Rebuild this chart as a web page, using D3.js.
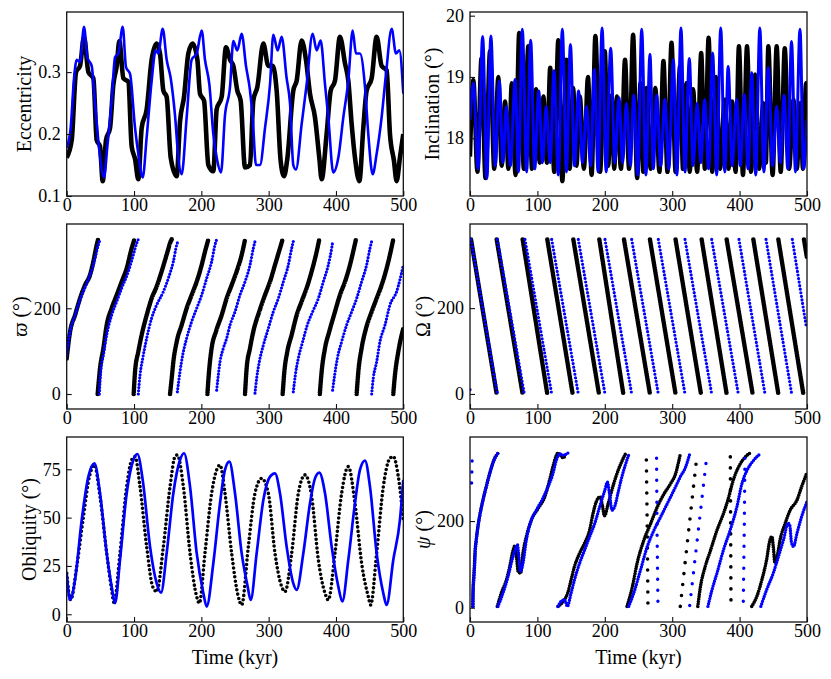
<!DOCTYPE html>
<html>
<head>
<meta charset="utf-8">
<script src="https://cdn.jsdelivr.net/npm/d3@7"></script>
<style>
body { margin:0; background:#fff; }
</style>
</head>
<body>
<div id="figure"></div>
<script>

// ---- data: [time (kyr), value] ----
var timeTicks = [0,100,200,300,400,500];
var eccTicks = [0.1,0.2,0.3];
var incTicks = [18,19,20];
var angleTicks = [0,200];
var oblTicks = [0,25,50,75];

var eccBlack = [[0,.162],[7.4,.19],[13.9,.30],[19.8,.31],[25.7,.357],[32.2,.30],[39.6,.29],[44.6,.19],[49.5,.18],[53.5,.124],
 [58.4,.19],[64.4,.21],[69.3,.28],[74.3,.31],[78.2,.35],[84.2,.29],[91.6,.284],[96.5,.18],[101.5,.16],[106.4,.127],
 [111.4,.21],[118.8,.24],[126.2,.32],[133.7,.346],[138.6,.33],[143.6,.27],[148.5,.26],[154.5,.162],[163.4,.132],
 [168.3,.22],[174.3,.26],[180.7,.33],[187.1,.346],[194.1,.32],[198,.265],[204,.254],[210.4,.15],[217.8,.14],
 [222.8,.24],[230.2,.26],[236.6,.34],[242.6,.32],[247.5,.31],[253.5,.27],[258.4,.254],[264.9,.146],[272.3,.15],
 [277.2,.254],[283.2,.276],[292.1,.346],[299.5,.31],[305.9,.31],[311.9,.27],[317.8,.157],[322.8,.132],[327.7,.16],
 [336.6,.27],[341.6,.286],[349,.351],[355.4,.32],[361.4,.265],[368.8,.227],[375.2,.162],[378.7,.127],[386.1,.2],
 [392.1,.27],[398.5,.286],[405.9,.357],[413.4,.314],[418.3,.286],[423.3,.216],[428.2,.162],[434.7,.124],[440.6,.21],
 [445.5,.27],[453,.29],[460.4,.357],[467.8,.31],[475.2,.303],[480.2,.2],[486.1,.157],[490.1,.124],[495,.162],[500,.2]];

var eccBlue = [[0,.178],[5.9,.21],[10.9,.29],[14.9,.32],[19.8,.316],[25.7,.373],[30.7,.324],[37.1,.31],[42.1,.25],[48.5,.173],
 [55.4,.13],[60.4,.18],[66.8,.254],[71.8,.324],[76.7,.33],[83.2,.373],[88.1,.308],[94.1,.297],[101.5,.21],[106.4,.168],
 [112.9,.13],[118.8,.195],[126.2,.286],[132.2,.335],[136.1,.33],[142.6,.37],[148.5,.32],[154.5,.29],[160.9,.23],
 [165.8,.162],[170.8,.135],[178.2,.227],[185.6,.32],[193.1,.33],[200.5,.367],[205.4,.32],[211.9,.28],[217.8,.2],
 [222.8,.162],[229.2,.138],[235.1,.23],[242.6,.276],[247.5,.35],[253.5,.335],[259.9,.362],[266.3,.31],[272.3,.27],
 [276.2,.227],[281.2,.15],[287.1,.15],[294.6,.21],[302,.28],[306.9,.36],[313.4,.335],[319.3,.357],[326.7,.29],
 [331.7,.25],[336.6,.15],[340.6,.143],[349,.216],[356.4,.28],[365.3,.362],[371.3,.335],[377.2,.351],[383.7,.28],
 [388.6,.227],[396,.138],[403.5,.162],[410.9,.227],[418.3,.286],[424.8,.367],[429.7,.33],[435.6,.33],[443.1,.276],
 [448,.2],[454.5,.135],[460.4,.168],[467.8,.227],[474.3,.297],[482.7,.37],[489.1,.33],[494.1,.335],[500,.265]];

var incBlack = [[0,17.7],[5,18.95],[11,17.45],[17,19.3],[23,17.35],[29.7,19.42],[36,17.5],[42,19.0],[47,17.55],[52,18.6],
 [57,17.5],[62,18.9],[67.5,17.4],[73,19.72],[80,17.5],[86.5,19.5],[92,17.5],[98,18.8],[103.5,17.6],[109,18.68],
 [114,17.6],[119,19.15],[125,17.45],[131,19.6],[137,17.3],[143,19.28],[148,17.5],[153,18.82],[158,17.55],[163,18.68],
 [169,17.5],[175,19.0],[180.5,17.4],[186,19.67],[193,17.45],[200,19.42],[205,17.55],[210,18.7],[214,17.5],[218,18.68],
 [224,17.5],[230,19.28],[236,17.5],[242,19.69],[248,17.35],[253,18.9],[257,17.45],[262,18.82],[268,17.5],[275,18.82],
 [281,17.45],[287,19.26],[293,17.45],[299,19.56],[305,17.45],[311.6,19.17],[316,17.5],[321,18.9],[326,17.45],[331,18.8],
 [337,17.45],[343,19.39],[348.5,17.5],[354,19.64],[359.5,17.45],[365,19.0],[371,17.5],[378,18.63],[383.5,17.5],[389,18.6],
 [394,17.45],[399,19.5],[405,17.4],[411,19.5],[417,17.45],[423,19.04],[429,17.5],[435,18.57],[439,17.6],[442.6,19.5],
 [449,17.4],[455,19.5],[461,17.45],[467,19.47],[473.5,17.5],[480,18.63],[485,17.5],[490,18.57],[494,17.5],[498.5,18.9],[500,18.7]];

var incBlue = [[0,18.3],[5,18.9],[12,17.5],[18.8,19.66],[25,17.34],[31,19.67],[37.5,17.55],[43.5,18.93],[49,17.6],[54,18.52],
 [60,17.55],[67,18.96],[72,17.45],[77.6,19.78],[84,17.45],[90,19.6],[96,17.5],[102,18.77],[107.5,17.6],[113,18.52],
 [119,17.6],[124.6,19.1],[131,17.4],[137,19.78],[143,17.45],[149,19.53],[155,17.55],[161,18.77],[167,17.6],[173,18.52],
 [179,17.55],[184.5,19.12],[190,17.45],[196,19.8],[202,17.45],[208.7,19.47],[215,17.6],[221,18.66],[226.5,17.6],[232,18.57],
 [238,17.55],[243,18.7],[249,17.4],[254.7,19.78],[261,17.4],[267,19.37],[272,17.5],[277,18.7],[283,17.55],[289,18.63],
 [295,17.5],[301.7,19.28],[307,17.4],[313,19.8],[319,17.45],[325.4,19.3],[331,17.55],[337,18.57],[342.5,17.6],[348,18.63],
 [354,17.5],[360,19.39],[366,17.4],[372,19.8],[378,17.45],[383,19.17],[389,17.55],[395.6,18.63],[401,17.55],[407,18.71],
 [412.5,17.5],[418,19.07],[424,17.4],[430,19.8],[436,17.45],[442.6,19.15],[449,17.55],[455,18.52],[460.5,17.6],[466,18.7],
 [471.5,17.5],[477,19.58],[483,17.45],[489.6,19.78],[495,17.5],[500,18.3]];

// longitude of periapse, one array per wrap
var varpiBlack = [
 [[0,83],[5,145],[12.4,184],[19.8,223],[27.2,254],[34.7,278],[39.6,309],[44.6,348],[46.5,360]],
 [[46,0],[49.5,60],[54.5,107],[59.4,161],[66.8,200],[74.3,231],[81.7,262],[89.1,293],[96.5,340],[100.5,360]],
 [[99.5,0],[101.5,52],[106.4,99],[111.4,138],[118.8,184],[126.2,223],[133.7,251],[141,286],[148.5,325],[154.5,356],[156,361]],
 [[153.5,0],[156,37],[158.4,75],[163.4,122],[170.8,161],[178.2,200],[185.6,231],[193.1,262],[200.5,301],[205.4,332],[210.4,360]],
 [[209,0],[211.4,52],[215.3,107],[221.8,146],[230.2,184],[237.6,223],[245,254],[252.5,286],[260,325],[264.9,360]],
 [[264.9,0],[267.3,60],[272.3,107],[277.2,146],[286,192],[294.6,231],[302,262],[309.4,301],[316.8,340],[320.8,361]],
 [[320.8,0],[323.3,52],[327.7,99],[334.2,138],[341.6,184],[349,216],[356.4,247],[363.9,286],[371.3,332],[375.2,361]],
 [[376,0],[378.7,52],[383.7,107],[390.1,146],[398.5,192],[405.9,231],[413.4,262],[420.8,301],[426.7,340],[429.7,361]],
 [[430.7,0],[433.2,52],[438.1,107],[444.6,153],[453,192],[460.4,223],[467.8,254],[475.2,293],[481.2,332],[485.1,361]],
 [[485.1,0],[487.6,44],[492.6,99],[500,153]]
];
var varpiBlue = [
 [[0,91],[5,145],[12.4,184],[22.3,231],[30.7,262],[39.6,301],[47,348],[49.5,360]],
 [[48.5,0],[50.5,52],[54.5,91],[59.4,138],[66.8,184],[74.3,216],[81.7,247],[91.6,286],[99,325],[104,352],[106.4,361]],
 [[106.4,0],[108.9,44],[112.9,83],[118.8,130],[126.2,177],[133.7,208],[143.6,239],[151,270],[158.4,309],[163.4,348],[165.8,358]],
 [[164.4,5],[168.3,52],[172.3,91],[178.2,130],[185.6,169],[193.1,200],[200.5,231],[207.9,270],[215.3,309],[220.3,348],[222.8,361]],
 [[222.8,9],[225.2,44],[227.7,75],[232.7,107],[237.6,130],[242.6,161],[250,192],[257.4,231],[264.9,262],[272.3,301],[277.2,340],[279.7,356]],
 [[279.7,2],[282.2,37],[286.1,75],[292.1,114],[299.5,153],[306.9,192],[314.4,223],[321.8,262],[329.2,301],[334.2,340],[336.6,356]],
 [[336.6,5],[339.6,44],[344,83],[350.5,122],[357.4,161],[365.3,192],[373.8,223],[381.2,262],[388.6,301],[393.6,340],[395,354]],
 [[395,9],[398,44],[402,83],[408.4,122],[415.8,161],[423.3,192],[430.7,223],[438.1,262],[445.5,301],[450.5,340],[453,356]],
 [[453,0],[455.4,37],[460.4,75],[465.3,122],[472.8,161],[480.2,208],[490.1,239],[500,301]]
];

// longitude of ascending node
var nodeBlack = [
 [[1.5,360],[39.6,0]],[[39.6,360],[78.1,0]],[[78.1,360],[114.7,0]],[[114.7,360],[152.3,0]],
 [[153.3,360],[191.4,0]],[[191.9,360],[227.5,0]],[[228.5,360],[267,0]],[[267,360],[305,0]],
 [[305,360],[342.7,0]],[[343.7,360],[380.8,0]],[[380.8,360],[419.4,0]],[[420.4,360],[457.5,0]],
 [[457.5,360],[494.6,0]],[[495.5,360],[500,317]]
];
var nodeBlue = [
 [[0,10],[0.4,6]],
 [[1.5,360],[40.6,0]],[[40.6,360],[80.6,0]],[[81.6,360],[121.2,0]],[[121.2,360],[160.7,0]],
 [[160.7,360],[200.3,0]],[[200.3,360],[239.9,0]],[[239.9,360],[279.4,0]],[[279.4,360],[319,0]],
 [[319,360],[358.6,0]],[[358.6,360],[398.1,0]],[[399.1,360],[437.7,0]],[[439.2,360],[477.3,0]],
 [[478.2,360],[498.5,161]]
];

var oblBlack = [[0,21.2],[5.9,7.4],[14.9,24.7],[24.8,50.5],[33.7,71.2],[41.1,77.2],[49.5,60.9],[59.4,31.6],[66.8,12.6],[70.3,6],
 [79.2,31.6],[89.1,66],[96.5,79.8],[101.5,81.6],[108.9,66],[118.8,35],[127.7,14.3],[133.7,11.7],[143.6,35],[153.5,66],
 [160.9,81.6],[164.4,82.4],[173.3,66],[183.2,31.6],[193.1,9.1],[197,5.7],[205.4,31.6],[215.3,62.6],[222.8,74.7],[227.7,77.2],
 [235.1,62.6],[245,31.6],[254.9,9.1],[259.9,4.8],[269.8,35],[279.7,62.6],[289.6,70.3],[299.5,62.6],[309.4,31.6],[319.3,14.3],
 [324.3,11.7],[334.2,31.6],[344.1,62.6],[354,72.1],[363.9,60.9],[373.8,28.1],[383.7,10.9],[388.6,7.4],[398.5,31.6],[408.4,62.6],
 [418.3,76.4],[428.2,57.4],[438.1,26.4],[448,9.1],[451.5,4.8],[460.4,31.6],[470.3,66],[480.2,80.7],[485.1,81.6],[492.6,71.2],[500,48.8]];

var oblBlue = [[0,21.2],[5,7.4],[12.4,17.8],[22.3,48.8],[32.2,71.2],[41.1,78.1],[49.5,62.6],[59.4,31.6],[66.8,14.3],[71.8,5.7],
 [79.2,28.1],[89.1,62.6],[99,79.8],[105,82.9],[112.9,69.5],[123.8,35],[133.7,16],[140.1,11.2],[148.5,31.6],[158.4,62.6],
 [168.3,79.8],[174.3,83.3],[183.2,66],[193.1,31.6],[203,10.9],[207.9,4],[217.8,26.4],[227.7,57.4],[235.1,74.7],[241.6,79],
 [250,62.6],[259.9,31.6],[268.8,14.3],[273.3,7.4],[282.2,31.6],[292.1,59.1],[302,71.2],[309.4,72.9],[316.8,62.6],[326.7,35],
 [336.6,16],[341.6,12.6],[351.5,31.6],[361.4,57.4],[368.8,70.3],[375.2,73.3],[383.7,62.6],[393.6,35],[403.5,14.3],[409.4,6.6],
 [418.3,28.1],[428.2,57.4],[435.6,74.7],[443.1,79.5],[450.5,66],[460.4,31.6],[470.3,10.9],[475.2,4.8],[485.1,28.1],[495,48.8],[500,69.5]];

// precession angle: densely sampled stretches and sparse fast ones
var psiBlack = [
 [[4.1,3],[4.4,37],[5.6,72],[6.6,100],[7.3,125],[9.2,156],[11.7,187],[14.1,210],[19.1,248],[24,279],[29,309],[36.4,344],[42.3,358]],
 [[40.5,3],[46.5,34],[54,64],[59,95],[64,133],[66.5,143],[69,118],[71.5,83],[75,80],[78.6,126],[83.6,164],[91,202],[101,229],
  [111,256],[118,294],[123,325],[128,351],[130.6,357],[134,352],[138,346],[141,350]],
 [[130.6,3],[136,10],[140,18],[145,34],[150,64],[155,95],[162.7,126],[170,149],[177.5,179],[182.5,217],[187.4,245],[193,256],
  [196.5,235],[199.5,212],[205,240],[213,285],[220.5,320],[226,340],[231,356]],
 [[233,3],[241,49],[248,103],[258,156],[268,194],[278,233],[288,263],[297.5,286],[305,309],[310,340],[312,354]],
 [[338,3],[342,49],[349,95],[357,133],[366.5,179],[376,217],[384,256],[389,286],[394,309],[401,332],[408.4,348],[415.8,357]],
 [[418,3],[425.6,26],[433,64],[440,110],[445,156],[448,164],[450,140],[452.5,103],[456,120],[460,156],[467.5,194],[475,225],
  [485,248],[492,279],[500,312]]
];
var psiBlue = [
 [[4.5,3],[4.8,37],[6,72],[7,100],[7.7,125],[9.4,156],[11.9,187],[14.3,210],[19.3,248],[24.2,279],[29.2,309],[36.6,344],[42.5,358]],
 [[41.5,3],[49,34],[56.4,72],[63.8,118],[68.7,141],[70.5,145],[72,126],[75,83],[78.6,103],[83.6,156],[91,202],[98.4,225],
  [108,252],[115.7,279],[123,309],[128,340],[133,355],[138,352],[145.4,357]],
 [[130.6,3],[135.5,15],[140.5,18],[144.4,3],[150,34],[155,64],[162.7,103],[170,133],[177.5,164],[185,194],[192.4,233],[200,271],
  [203.8,290],[207,263],[210.7,225],[214.6,233],[219.6,265],[224,294],[231,332],[236,355]],
 [[235.5,3],[243,34],[253,87],[263,141],[273,179],[283,210],[292.6,240],[302.5,271],[312,302],[320,325],[326,355]],
 [[353,3],[359,41],[366.5,80],[376,133],[386,179],[396,233],[403.4,286],[411,317],[420.7,340],[430.5,355]],
 [[431.5,3],[440,41],[450,80],[457.6,118],[465,156],[472,195],[474.5,190],[477,150],[480,141],[485,171],[492,210],[500,245]]
];
var psiBlackSparse = [
 [[264,11],[263,180],[261.6,346]],
 [[312,3],[337,355]],
 [[387.2,18],[386.7,190],[386.2,357]]
];
var psiBlueSparse = [
 [[2.4,288],[2.8,315],[3.2,343]],
 [[278.8,15],[277.5,180],[276.8,350]],
 [[326,5],[351.7,355]],
 [[405.5,15],[407,190],[408,357]]
];

// ---- layout ----
var W = 831, H = 679;
var FONT = '"Liberation Serif", "Times New Roman", serif';
var colL = [66.7, 403.3], colR = [470, 807];
var rows = [[12,196],[224,409],[437,622]];

var svg = d3.select("#figure").append("svg")
	.attr("width", W).attr("height", H)
	.style("font-family", FONT);

function panel(id, col, row, yDomain, yTicks, yFmt, title, xTitle) {
	var x = d3.scaleLinear().domain([0,500]).range(col);
	var y = d3.scaleLinear().domain(yDomain).range([row[1], row[0]]);
	var g = svg.append("g").attr("id", id);

	g.append("clipPath").attr("id", "clip-"+id)
		.append("rect")
		.attr("x", col[0]).attr("y", row[0])
		.attr("width", col[1]-col[0]).attr("height", row[1]-row[0]);

	var plot = g.append("g").attr("clip-path", "url(#clip-"+id+")");

	g.append("rect")
		.attr("x", col[0]).attr("y", row[0])
		.attr("width", col[1]-col[0]).attr("height", row[1]-row[0])
		.attr("fill", "none").attr("stroke", "#111").attr("stroke-width", 1.3);

	var xa = g.append("g").attr("transform", "translate(0,"+row[1]+")")
		.call(d3.axisBottom(x).tickValues(timeTicks).tickFormat(d3.format("d"))
			.tickSizeInner(-5).tickSizeOuter(0).tickPadding(2));
	var ya = g.append("g").attr("transform", "translate("+col[0]+",0)")
		.call(d3.axisLeft(y).tickValues(yTicks).tickFormat(yFmt)
			.tickSizeInner(-5).tickSizeOuter(0).tickPadding(6));

	[xa, ya].forEach(function(a) {
		a.attr("font-family", FONT).attr("font-size", 18);
		a.select(".domain").remove();
		a.selectAll("line").attr("stroke", "#111").attr("stroke-width", 1.1);
		a.selectAll("text").attr("fill", "#000");
	});

	var lw = d3.max(ya.selectAll("text").nodes(), function(n) { return n.getBBox().width; });
	var tx = col[0] - 6 - lw - 14;
	var t = g.append("text")
		.attr("transform", "translate("+tx+","+((row[0]+row[1])/2)+") rotate(-90)")
		.attr("text-anchor", "middle")
		.attr("dy", "0.35em")
		.attr("font-size", 20);
	title.forEach(function(p) {
		t.append("tspan").text(p[0]).attr("font-style", p[1] ? "italic" : null);
	});

	if (xTitle) {
		g.append("text")
			.attr("x", (col[0]+col[1])/2).attr("y", 664)
			.attr("text-anchor", "middle")
			.attr("font-size", 20)
			.text("Time (kyr)");
	}
	return {plot: plot, x: x, y: y};
}

function drawLine(p, data, color, width) {
	var line = d3.line()
		.x(function(d) { return p.x(d[0]); })
		.y(function(d) { return p.y(d[1]); })
		.curve(d3.curveMonotoneX);
	p.plot.append("path")
		.datum(data)
		.attr("d", line)
		.attr("fill", "none")
		.attr("stroke", color)
		.attr("stroke-width", width)
		.attr("stroke-linejoin", "round");
}

// dotted series: round dots spaced along each stretch
function drawDots(p, segs, color, size, gap, curve) {
	var line = d3.line()
		.x(function(d) { return p.x(d[0]); })
		.y(function(d) { return p.y(d[1]); })
		.curve(curve || d3.curveMonotoneX);
	p.plot.selectAll(null)
		.data(segs)
		.enter()
		.append("path")
		.attr("d", line)
		.attr("fill", "none")
		.attr("stroke", color)
		.attr("stroke-width", size)
		.attr("stroke-linecap", "round")
		.attr("stroke-dasharray", "0," + gap);
}

var fmt1 = d3.format(".1f"), fmtD = d3.format("d");

var p1 = panel("ecc", colL, rows[0], [0.1, 0.397], eccTicks, fmt1, [["Eccentricity"]], false);
drawLine(p1, eccBlack, "#000", 4.6);
drawLine(p1, eccBlue, "#0000ff", 2.6);

var p2 = panel("inc", colR, rows[0], [17.057, 20.06], incTicks, fmtD, [["Inclination (°)"]], false);
drawLine(p2, incBlack, "#000", 4.4);
drawLine(p2, incBlue, "#0000ff", 3);

var p3 = panel("varpi", colL, rows[1], [-35, 396.7], angleTicks, fmtD, [["ϖ", true], [" (°)"]], false);
drawDots(p3, varpiBlack, "#000", 4.6, 1.6);
drawDots(p3, varpiBlue, "#0000ff", 3.2, 3.2);

var p4 = panel("node", colR, rows[1], [-35, 396], angleTicks, fmtD, [["Ω (°)"]], false);
drawDots(p4, nodeBlack, "#000", 4.6, 1.6, d3.curveLinear);
drawDots(p4, nodeBlue, "#0000ff", 3.2, 3.6, d3.curveLinear);

var p5 = panel("obl", colL, rows[2], [-4, 91.7], oblTicks, fmtD, [["Obliquity (°)"]], true);
drawDots(p5, [oblBlack], "#000", 3.6, 4.4);
drawLine(p5, oblBlue, "#0000ff", 2.7);

var p6 = panel("psi", colR, rows[2], [-33, 394], angleTicks, fmtD, [["ψ", true], [" (°)"]], true);
drawDots(p6, psiBlack, "#000", 3.6, 2.4);
drawDots(p6, psiBlackSparse, "#000", 3.6, 11, d3.curveLinear);
drawDots(p6, psiBlue, "#0000ff", 3.4, 2.6);
drawDots(p6, psiBlueSparse, "#0000ff", 3.4, 11, d3.curveLinear);

</script>
</body>
</html>
